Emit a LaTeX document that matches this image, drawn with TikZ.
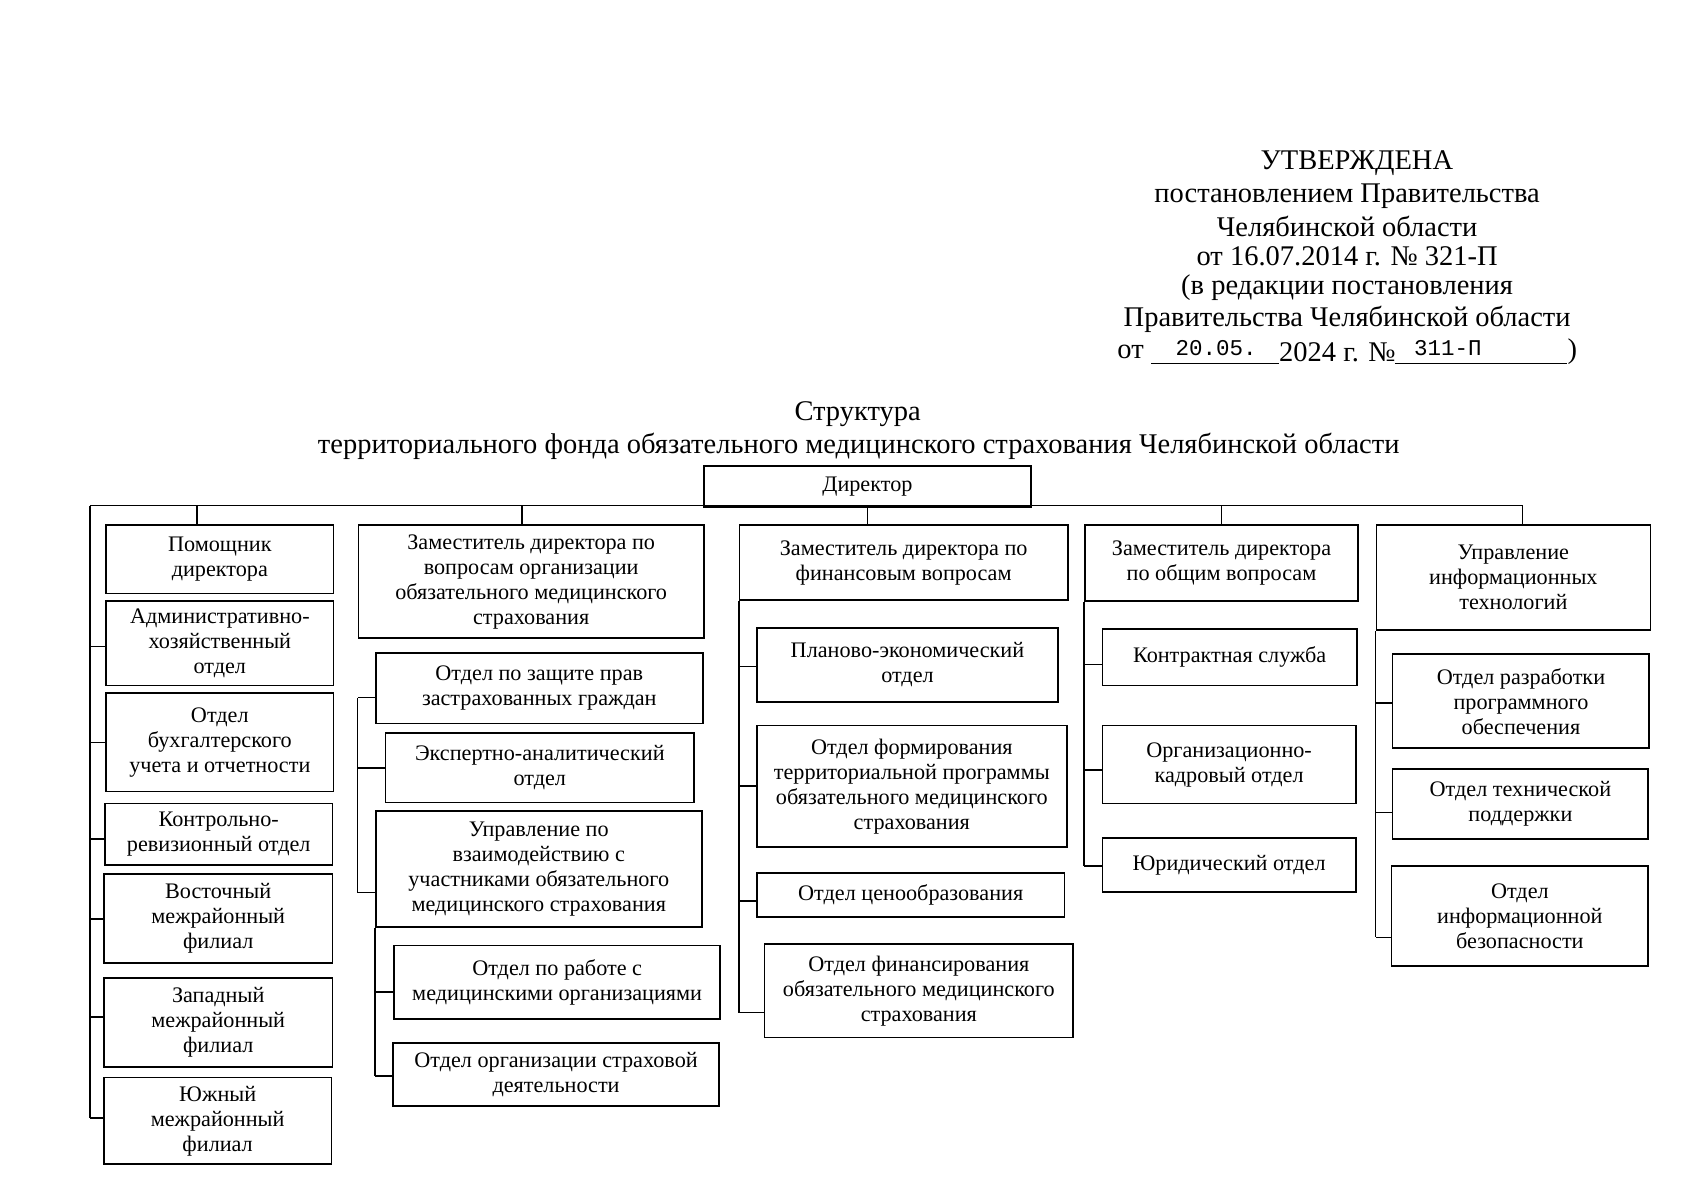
\documentclass[tikz,border=0pt]{standalone}
\usepackage{fontspec}
\setmainfont{Liberation Serif}
\newfontfamily\monof{Liberation Mono}
\usetikzlibrary{calc}
\tikzset{
  bxs/.style={draw, line width=1.7pt, inner sep=0pt, align=center, font=\fontsize{22.2}{25}\selectfont},
  hdr/.style={inner sep=0pt, align=center, font=\fontsize{28.5}{32}\selectfont},
  ln/.style={line width=1.5pt},
}
\newcommand\obox[6]{%
  \pgfmathsetmacro\bw{(#4-#2)*1.0829}%
  \pgfmathsetmacro\bh{(#5-#3)*1.0829}%
  \node[bxs, minimum width=\bw pt, minimum height=\bh pt] (#1) at ({(#2+#4)/2},{(#3+#5)/2}) {#6};}
\newcommand\hk[3]{%
  \coordinate (c#1) at ($(#1.north west)!#2!(#1.south west)$);
  \draw[ln] (c#1) -- (c#1 -| #3);}
\begin{document}
\begin{tikzpicture}[x=1.0829pt,y=-1.0829pt]
\fill[white] (0,0) rectangle (1568,1108);
\useasboundingbox (0,0) rectangle (1568,1108);

% header
\node[hdr] (h1) at (1253,151) {УТВЕРЖДЕНА};
\node[hdr] (h2) at (1244,181) {постановлением Правительства};
\node[hdr] (h3) at (1244,209) {Челябинской области};
\node[hdr] (h4) at (1244,237) {от 16.07.2014 г. № 321-П};
\node[hdr] (h5) at (1244,266) {(в редакции постановления};
\node[hdr] (h6) at (1244,295) {Правительства Челябинской области};
\node[hdr] (h7a) at (1044,325) {от};
\node[inner sep=0pt, font=\monof\fontsize{22.5}{24}\selectfont] (h7b) at (1123,321) {20.05.};
\node[hdr] (h7c) at (1235,325) {2024 г. №};
\node[inner sep=0pt, font=\monof\fontsize{22.5}{24}\selectfont] (h7d) at (1337,321) {311-П};
\node[hdr] (h7e) at (1452,325) {)};
\draw[line width=1pt] (1063,336) -- (1181,336);
\draw[line width=1pt] (1288,336) -- (1447,336);

% title
\node[hdr] (t1) at (792,382) {Структура};
\node[hdr] (t2) at (793,412) {территориального фонда обязательного медицинского страхования Челябинской области};

% director
\obox{dir}{650}{430}{952}{468}{Директор}

% column 1
\obox{pom}{98}{485}{308}{548}{Помощник\\директора}
\obox{adm}{98}{555}{308}{633}{Административно-\\хозяйственный\\отдел}
\obox{buh}{98}{640}{308}{731}{Отдел\\бухгалтерского\\учета и отчетности}
\obox{kro}{97}{742}{307}{799}{Контрольно-\\ревизионный отдел}
\obox{vos}{96}{807}{307}{889}{Восточный\\межрайонный\\филиал}
\obox{zap}{96}{903}{307}{985}{Западный\\межрайонный\\филиал}
\obox{yuz}{96}{995}{306}{1075}{Южный\\межрайонный\\филиал}

% column 2
\obox{zoms}{331}{485}{650}{589}{Заместитель директора по\\вопросам организации\\обязательного медицинского\\страхования}
\obox{zpr}{347}{603}{649}{668}{Отдел по защите прав\\застрахованных граждан}
\obox{eks}{356}{677}{641}{741}{Экспертно-аналитический\\отдел}
\obox{upv}{347}{749}{648}{856}{Управление по\\взаимодействию с\\участниками обязательного\\медицинского страхования}
\obox{rmo}{364}{873}{665}{941}{Отдел по работе с\\медицинскими организациями}
\obox{osd}{363}{963}{664}{1021}{Отдел организации страховой\\деятельности}

% column 3
\obox{zfin}{683}{485}{986}{554}{Заместитель директора по\\финансовым вопросам}
\obox{pek}{699}{580}{977}{648}{Планово-экономический\\отдел}
\obox{ftp}{699}{670}{985}{782}{Отдел формирования\\территориальной программы\\обязательного медицинского\\страхования}
\obox{cen}{699}{806}{983}{847}{Отдел ценообразования}
\obox{fin}{706}{872}{991}{958}{Отдел финансирования\\обязательного медицинского\\страхования}

% column 4
\obox{zob}{1002}{485}{1254}{555}{Заместитель директора\\по общим вопросам}
\obox{ksl}{1018}{581}{1253}{633}{Контрактная служба}
\obox{okd}{1018}{670}{1252}{742}{Организационно-\\кадровый отдел}
\obox{yur}{1018}{774}{1252}{824}{Юридический отдел}

% column 5
\obox{uit}{1271}{485}{1524}{582}{Управление\\информационных\\технологий}
\obox{rpo}{1286}{604}{1523}{691}{Отдел разработки\\программного\\обеспечения}
\obox{otp}{1286}{710}{1522}{775}{Отдел технической\\поддержки}
\obox{oib}{1285}{800}{1522}{892}{Отдел\\информационной\\безопасности}

% main bus
\coordinate (busL) at (83,467);
\coordinate (busR) at (1406,467);
\coordinate (k1) at (182,467);
\coordinate (k2) at (482,467);
\coordinate (k4) at (1128,467);
\draw[ln] (busL) -- (busR);
\draw[ln] (k1) -- (k1 |- pom.north);
\draw[ln] (k2) -- (k2 |- zoms.north);
\draw[ln] (dir.south) -- (dir.south |- zfin.north);
\draw[ln] (k4) -- (k4 |- zob.north);
\draw[ln] (busR) -- (busR |- uit.north);

% column 1 links
\hk{adm}{0.54}{busL}
\hk{buh}{0.5}{busL}
\hk{kro}{0.57}{busL}
\hk{vos}{0.51}{busL}
\hk{zap}{0.44}{busL}
\hk{yuz}{0.47}{busL}
\draw[ln] (busL) -- (cyuz -| busL);

% column 2 links
\hk{zpr}{0.63}{zoms.west}
\hk{eks}{0.5}{zoms.west}
\hk{upv}{0.70}{zoms.west}
\draw[ln] (czpr -| zoms.west) -- (cupv -| zoms.west);
\hk{rmo}{0.63}{upv.south west}
\hk{osd}{0.53}{upv.south west}
\draw[ln] (upv.south west) -- (cosd -| upv.south west);

% column 3 links
\hk{pek}{0.52}{zfin.south west}
\hk{ftp}{0.5}{zfin.south west}
\hk{cen}{0.63}{zfin.south west}
\hk{fin}{0.73}{zfin.south west}
\draw[ln] (zfin.south west) -- (cfin -| zfin.south west);

% column 4 links
\hk{ksl}{0.62}{zob.south west}
\hk{okd}{0.57}{zob.south west}
\hk{yur}{0.51}{zob.south west}
\draw[ln] (zob.south west) -- (cyur -| zob.south west);

% column 5 links
\hk{rpo}{0.52}{uit.south west}
\hk{otp}{0.62}{uit.south west}
\hk{oib}{0.71}{uit.south west}
\draw[ln] (uit.south west) -- (coib -| uit.south west);
\end{tikzpicture}
\end{document}
